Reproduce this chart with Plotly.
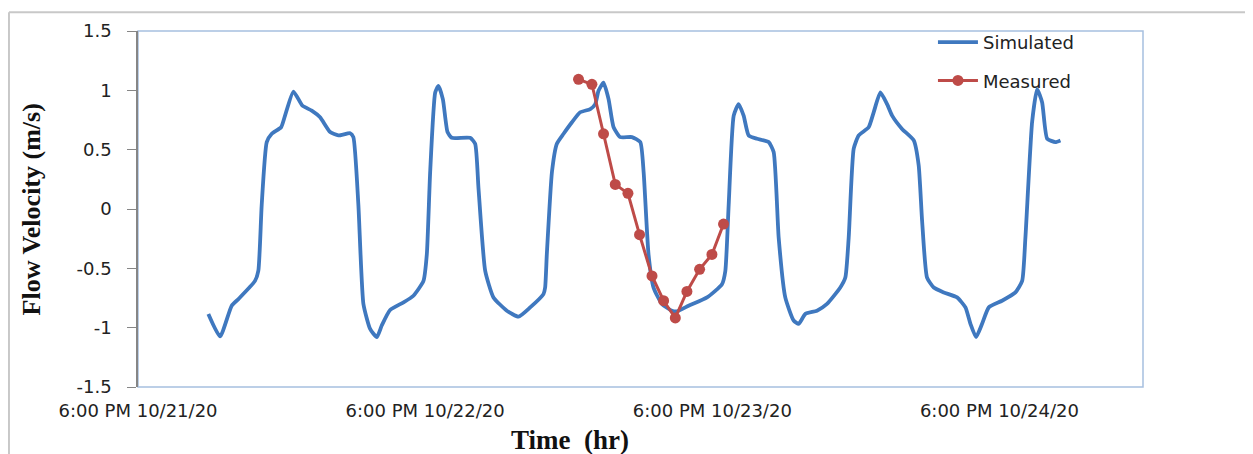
import pandas as pd
import plotly.graph_objects as go

START = "2020-10-21 18:00"

# Simulated series: hours after 6:00 PM 10/21/20, velocity (m/s)
sim_hours = [5.88, 6.86, 7.83, 8.39, 9.78, 10.06, 10.34, 10.76, 11.18, 11.96, 12.29, 12.99,
             13.74, 14.52, 15.22, 16.06, 16.75, 17.73, 18.0, 18.42, 18.84, 19.40, 19.96, 20.38,
             21.07, 22.19, 23.02, 23.86, 24.14, 24.42, 24.84, 25.11, 25.48, 25.87, 26.23, 27.76,
             28.18, 28.46, 29.02, 29.71, 30.83, 31.80, 32.78, 33.89, 34.03, 34.17, 34.6, 35.01,
             35.57, 36.27, 36.96, 37.80, 38.22, 38.49, 38.91, 39.33, 39.75, 40.31, 41.28, 41.98,
             42.26, 42.67, 43.09, 43.79, 44.63, 45.05, 46.02, 47.56, 48.81, 49.09, 49.37, 49.79,
             50.2, 50.62, 51.04, 51.74, 52.71, 53.13, 53.55, 54.1, 54.8, 55.22, 55.78, 56.75,
             57.59, 58.7, 59.12, 59.40, 59.82, 60.24, 61.07, 61.49, 62.05, 62.61, 63.03, 63.86,
             64.84, 65.25, 65.54, 65.95, 66.51, 67.35, 68.46, 69.16, 69.58, 70.05, 70.55, 71.11,
             72.22, 73.34, 73.9, 74.17, 74.73, 75.15, 75.57, 75.99, 76.68, 77.1]
sim_values = [-0.884, -1.074, -0.815, -0.759, -0.606, -0.52, 0.035, 0.564, 0.634, 0.689, 0.787, 0.99,
              0.871, 0.829, 0.773, 0.648, 0.62, 0.639, 0.606, 0.035, -0.80, -1.01, -1.08, -0.98,
              -0.851, -0.787, -0.731, -0.606, -0.383, 0.313, 0.982, 1.038, 0.926, 0.648, 0.60, 0.60,
              0.55, 0.174, -0.522, -0.745, -0.857, -0.907, -0.829, -0.717, -0.662, -0.383, 0.313, 0.55,
              0.634, 0.731, 0.815, 0.842, 0.884, 0.996, 1.065, 0.926, 0.689, 0.606, 0.606, 0.564,
              0.313, -0.383, -0.662, -0.80, -0.857, -0.862, -0.815, -0.745, -0.634, -0.522, 0.035, 0.787,
              0.884, 0.787, 0.62, 0.592, 0.564, 0.48, -0.244, -0.745, -0.94, -0.968, -0.884, -0.857,
              -0.80, -0.662, -0.578, -0.244, 0.508, 0.62, 0.689, 0.815, 0.982, 0.884, 0.787, 0.675,
              0.578, 0.369, -0.104, -0.578, -0.662, -0.703, -0.745, -0.829, -0.968, -1.08, -0.968, -0.829,
              -0.773, -0.703, -0.606, -0.244, 0.731, 1.01, 0.898, 0.592, 0.564, 0.578]

# Measured series
meas_hours = [36.82, 37.94, 38.91, 39.89, 40.95, 41.92, 42.96, 43.93, 44.91, 45.88, 46.94, 47.97, 48.94]
meas_values = [1.093, 1.051, 0.634, 0.207, 0.132, -0.216, -0.564, -0.773, -0.918, -0.695, -0.508, -0.383, -0.127]

x_tick_hours = [0, 24, 48, 72]
x_tick_text = ["6:00 PM 10/21/20", "6:00 PM 10/22/20", "6:00 PM 10/23/20", "6:00 PM 10/24/20"]
y_tick_vals = [1.5, 1, 0.5, 0, -0.5, -1, -1.5]
y_tick_text = ["1.5", "1", "0.5", "0", "-0.5", "-1", "-1.5"]

t0 = pd.Timestamp(START)
to_time = lambda hrs: [t0 + pd.Timedelta(hours=h) for h in hrs]

fig = go.Figure()
fig.add_trace(go.Scatter(
    x=to_time(sim_hours), y=sim_values, mode="lines", name="Simulated", legendgroup="a",
    line=dict(color="#3F78BF", width=3.8, shape="spline", smoothing=0.5)))
fig.add_trace(go.Scatter(
    x=to_time(meas_hours), y=meas_values, mode="lines+markers", name="Measured", legendgroup="b",
    line=dict(color="#BE4B48", width=3),
    marker=dict(color="#BE4B48", size=11, symbol="circle")))

serif = "Liberation Serif"
fig.update_layout(
    width=1245, height=446,
    margin=dict(l=130, r=110, t=20, b=67),
    paper_bgcolor="white", plot_bgcolor="white",
    font=dict(family="DejaVu Sans", size=18, color="#222222"),
    showlegend=True,
    legend=dict(x=0.791, y=1.02, xanchor="left", yanchor="top",
                bgcolor="rgba(0,0,0,0)", font=dict(size=18, family="DejaVu Sans"),
                tracegroupgap=12, itemwidth=40),
    xaxis=dict(
        type="date",
        range=[t0, t0 + pd.Timedelta(hours=84)],
        tickvals=to_time(x_tick_hours), ticktext=x_tick_text,
        showgrid=False, zeroline=False, ticks="", showline=False,
        ticklabelstandoff=11),
    yaxis=dict(
        range=[-1.5, 1.5],
        tickvals=y_tick_vals, ticktext=y_tick_text,
        showgrid=False, zeroline=False,
        showline=True, linecolor="#868686", linewidth=1.5,
        ticks="outside", ticklen=9, tickcolor="#868686",
        ticklabelstandoff=12),
    annotations=[
        dict(text="<b>Time\u00a0\u00a0(hr)</b>", xref="paper", yref="paper",
             x=0.43, y=-0.148, xanchor="center", yanchor="middle", showarrow=False,
             font=dict(family=serif, size=27, color="#111111")),
        dict(text="<b>Flow Velocity (m/s)</b>", xref="paper", yref="paper",
             x=-0.1055, y=0.4986, xanchor="center", yanchor="middle", showarrow=False,
             textangle=-90, font=dict(family=serif, size=26, color="#111111")),
    ],
    shapes=[
        dict(type="rect", xref="paper", yref="paper", x0=0, x1=1, y0=0, y1=1,
             line=dict(color="#A7C0E0", width=1.5), layer="below"),
        dict(type="line", xref="paper", yref="paper", x0=-0.1284, x1=1.12, y0=1.0529, y1=1.0529,
             line=dict(color="#C8C8C8", width=2)),
        dict(type="line", xref="paper", yref="paper", x0=-0.1284, x1=-0.1284, y0=1.0529, y1=-0.2,
             line=dict(color="#C8C8C8", width=2)),
    ],
)

fig.write_html("out.html")
